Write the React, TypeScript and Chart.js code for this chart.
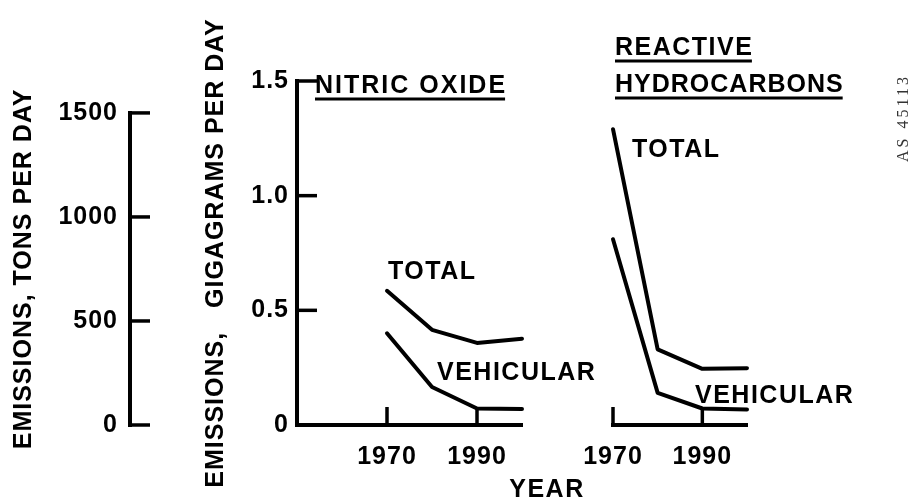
import React, { useEffect, useRef } from 'react';
import { Chart, registerables } from 'chart.js';

Chart.register(...registerables);

// ---- data ----
const years = [1970, 1980, 1990, 2000];
const nitricTotal = [0.585, 0.415, 0.358, 0.376];
const nitricVehicular = [0.4, 0.166, 0.072, 0.07];
const hydroTotal = [1.29, 0.33, 0.245, 0.248];
const hydroVehicular = [0.81, 0.14, 0.072, 0.068];
const ggTicks = [0, 0.5, 1.0, 1.5];
const tonTicks = [0, 500, 1000, 1500];
const yearTicks = [1970, 1990];
const GG_PER_TON = 0.0009072;

// ---- style ----
const FAMILY = '"Liberation Sans", Arial, Helvetica, sans-serif';
const FONT = { family: FAMILY, size: 25, weight: 'bold' as const };
const INK = '#000';
const CSS_FONT = `bold 25px ${FAMILY}`;

const pts = (vals: number[]) => years.map((x, i) => ({ x, y: vals[i] }));

const lineDs = (vals: number[]) => ({
  data: pts(vals),
  borderColor: INK,
  borderWidth: 4,
  pointRadius: 0,
  tension: 0,
  fill: false,
  borderCapStyle: 'round' as const,
  borderJoinStyle: 'round' as const,
  clip: false as const,
});

const xScale = (min: number, max: number) => ({
  type: 'linear' as const,
  position: 'bottom' as const,
  min,
  max,
  afterBuildTicks: (s: any) => {
    s.ticks = yearTicks.map((v) => ({ value: v }));
  },
  afterFit: (s: any) => {
    s.height = 77;
  },
  grid: { display: false, drawTicks: false },
  border: { display: true, color: INK, width: 4 },
  ticks: {
    font: FONT,
    color: INK,
    padding: 17,
    autoSkip: false,
    maxRotation: 0,
    callback: (v: any) => String(v),
  },
});

function setSpacing(chart: any) {
  try {
    chart.ctx.letterSpacing = '1px';
  } catch (e) {}
}

function line(ctx: CanvasRenderingContext2D, x1: number, y1: number, x2: number, y2: number, w: number) {
  ctx.lineWidth = w;
  ctx.beginPath();
  ctx.moveTo(x1, y1);
  ctx.lineTo(x2, y2);
  ctx.stroke();
}

function label(ctx: CanvasRenderingContext2D, s: string, x: number, y: number, spacing = 1.5) {
  (ctx as any).letterSpacing = `${spacing}px`;
  ctx.fillText(s, x, y);
}

function underlined(ctx: CanvasRenderingContext2D, s: string, x: number, y: number, spacing = 1) {
  (ctx as any).letterSpacing = `${spacing}px`;
  ctx.fillText(s, x, y);
  const w = ctx.measureText(s).width - spacing;
  line(ctx, x, y + 6, x + w, y + 6, 3);
}

function inwardYearTicks(chart: any) {
  const ctx = chart.ctx as CanvasRenderingContext2D;
  const xs = chart.scales.x;
  const ys = chart.scales.y;
  const y0 = ys.getPixelForValue(0);
  for (const v of yearTicks) {
    const px = xs.getPixelForValue(v);
    line(ctx, px, y0, px, y0 - 18, 3.5);
  }
}

const leftPlugin = {
  id: 'leftInk',
  beforeDraw: setSpacing,
  afterDraw(chart: any) {
    const ctx = chart.ctx as CanvasRenderingContext2D;
    const ys = chart.scales.y;
    const ts = chart.scales.y2;
    ctx.save();
    (ctx as any).letterSpacing = '1px';
    ctx.strokeStyle = INK;
    ctx.fillStyle = INK;
    ctx.lineCap = 'butt';

    // tons axis (0..1500)
    const tx = ts.right;
    line(ctx, tx, ts.getPixelForValue(0) + 2, tx, ts.getPixelForValue(1500) - 2, 4);
    for (const v of tonTicks) {
      const py = ts.getPixelForValue(v);
      line(ctx, tx - 2, py, tx + 20, py, 3.5);
    }
    // gigagram inward ticks
    for (const v of ggTicks) {
      if (v === 0) continue;
      const py = ys.getPixelForValue(v);
      line(ctx, ys.right, py, ys.right + 20, py, 3.5);
    }
    inwardYearTicks(chart);

    ctx.font = CSS_FONT;
    ctx.textAlign = 'left';
    ctx.textBaseline = 'alphabetic';
    underlined(ctx, 'NITRIC OXIDE', 315, 93, 2);
    label(ctx, 'TOTAL', 388, 279);
    label(ctx, 'VEHICULAR', 437, 380);

    ctx.textAlign = 'center';
    label(ctx, 'YEAR', 547, 497);

    // tons title
    ctx.save();
    (ctx as any).letterSpacing = '1px';
    ctx.translate(24, (ts.getPixelForValue(0) + ts.getPixelForValue(1500)) / 2);
    ctx.rotate(-Math.PI / 2);
    ctx.textAlign = 'center';
    ctx.textBaseline = 'middle';
    ctx.fillText('EMISSIONS, TONS PER DAY', 0, 0);
    ctx.restore();

    // archive stamp
    ctx.save();
    ctx.translate(904, 118);
    ctx.rotate(-Math.PI / 2);
    ctx.font = `16px "Liberation Serif", "DejaVu Serif", serif`;
    (ctx as any).letterSpacing = '3px';
    ctx.fillStyle = '#333';
    ctx.textAlign = 'center';
    ctx.textBaseline = 'middle';
    ctx.fillText('AS 45113', 0, 0);
    ctx.restore();

    ctx.restore();
  },
};

const rightPlugin = {
  id: 'rightInk',
  beforeDraw: setSpacing,
  afterDraw(chart: any) {
    const ctx = chart.ctx as CanvasRenderingContext2D;
    ctx.save();
    ctx.strokeStyle = INK;
    ctx.fillStyle = INK;
    ctx.lineCap = 'butt';
    inwardYearTicks(chart);
    ctx.font = CSS_FONT;
    ctx.textAlign = 'left';
    ctx.textBaseline = 'alphabetic';
    underlined(ctx, 'REACTIVE', 615, 55, 1.5);
    underlined(ctx, 'HYDROCARBONS', 615, 92, 1);
    label(ctx, 'TOTAL', 632, 157);
    label(ctx, 'VEHICULAR', 695, 403);
    ctx.restore();
  },
};

export default function App() {
  const leftRef = useRef<HTMLCanvasElement>(null);
  const rightRef = useRef<HTMLCanvasElement>(null);

  useEffect(() => {
    const left = new Chart(leftRef.current as HTMLCanvasElement, {
      type: 'line',
      data: {
        datasets: [
          { ...lineDs(nitricTotal), label: 'Total', yAxisID: 'y' },
          { ...lineDs(nitricVehicular), label: 'Vehicular', yAxisID: 'y' },
        ],
      },
      options: {
        responsive: false,
        animation: false,
        events: [],
        layout: { padding: { top: 81, bottom: 0, left: 0, right: 398 } },
        plugins: { legend: { display: false }, tooltip: { enabled: false }, title: { display: false } },
        scales: {
          x: xScale(1950, 2000),
          y: {
            type: 'linear',
            position: 'left',
            weight: 0,
            min: 0,
            max: 1.5,
            afterBuildTicks: (s: any) => {
              s.ticks = ggTicks.map((v) => ({ value: v }));
            },
            afterFit: (s: any) => {
              s.width = 167;
            },
            grid: { display: false, drawTicks: false },
            border: { display: true, color: INK, width: 4 },
            ticks: {
              font: FONT,
              color: INK,
              padding: 8,
              callback: (v: any) => (Number(v) === 0 ? '0' : Number(v).toFixed(1)),
            },
            title: {
              display: true,
              text: 'EMISSIONS,   GIGAGRAMS PER DAY',
              font: FONT,
              color: INK,
              padding: { top: 71, bottom: 0 },
            },
          },
          y2: {
            type: 'linear',
            position: 'left',
            weight: 1,
            min: 0,
            max: 1.5 / GG_PER_TON,
            afterBuildTicks: (s: any) => {
              s.ticks = tonTicks.map((v) => ({ value: v }));
            },
            afterFit: (s: any) => {
              s.width = 130;
            },
            grid: { display: false, drawTicks: false },
            border: { display: false },
            ticks: {
              font: FONT,
              color: INK,
              padding: 12,
              callback: (v: any) => String(v),
            },
          },
        },
      } as any,
      plugins: [leftPlugin],
    });

    const right = new Chart(rightRef.current as HTMLCanvasElement, {
      type: 'line',
      data: {
        datasets: [
          { ...lineDs(hydroTotal), label: 'Total' },
          { ...lineDs(hydroVehicular), label: 'Vehicular' },
        ],
      },
      options: {
        responsive: false,
        animation: false,
        events: [],
        layout: { padding: { top: 81, bottom: 0, left: 613, right: 173 } },
        plugins: { legend: { display: false }, tooltip: { enabled: false }, title: { display: false } },
        scales: {
          x: xScale(1970, 2000),
          y: { type: 'linear', min: 0, max: 1.5, display: false },
        },
      } as any,
      plugins: [rightPlugin],
    });

    return () => {
      left.destroy();
      right.destroy();
    };
  }, []);

  return (
    <div style={{ position: 'fixed', left: 0, top: 0, width: 920, height: 502, background: '#fff' }}>
      <canvas ref={leftRef} width={920} height={502} style={{ position: 'absolute', left: 0, top: 0 }} />
      <canvas ref={rightRef} width={920} height={502} style={{ position: 'absolute', left: 0, top: 0 }} />
    </div>
  );
}
